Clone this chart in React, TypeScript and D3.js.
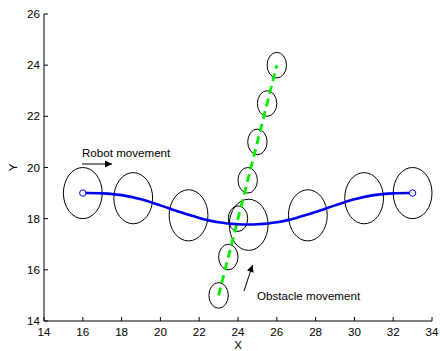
import React from "react";
import * as d3 from "d3";

const xTicks = [14, 16, 18, 20, 22, 24, 26, 28, 30, 32, 34];
const yTicks = [14, 16, 18, 20, 22, 24, 26];

const pathX = [16, 17, 18, 19, 20, 21, 22, 23, 24, 24.5, 25, 26, 27, 28, 29, 30, 31, 32, 33];
const pathY = [19, 18.99, 18.92, 18.76, 18.52, 18.26, 18.03, 17.86, 17.78, 17.77, 17.78, 17.86, 18.03, 18.26, 18.52, 18.76, 18.92, 18.99, 19];

const robotEllX = [16, 18.6, 21.45, 24.55, 27.6, 30.5, 33];
const robotEllY = [19, 18.8, 18.13, 17.76, 18.13, 18.8, 19];
const robotRadius = 1.0;

const obsX = [23, 23.5, 24, 24.5, 25, 25.5, 26];
const obsY = [15, 16.5, 18, 19.5, 21, 22.5, 24];
const obsRadius = 0.5;

const W = 440;
const H = 351;

export default function App() {
  const x = d3.scaleLinear().domain([14, 34]).range([44, 432]);
  const y = d3.scaleLinear().domain([14, 26]).range([321, 14]);
  const font = "'Liberation Sans', Arial, Helvetica, sans-serif";
  const fs = 11.6;

  const line = d3
    .line<number>()
    .x((_, i) => x(pathX[i]))
    .y((d) => y(d))
    .curve(d3.curveCatmullRom);
  const pathD = line(pathY) || "";

  const obsLine = d3
    .line<number>()
    .x((_, i) => x(obsX[i]))
    .y((d) => y(d));
  const obsD = obsLine(obsY) || "";

  const rxR = x(robotRadius) - x(0);
  const ryR = y(0) - y(robotRadius);
  const rxO = x(obsRadius) - x(0);
  const ryO = y(0) - y(obsRadius);

  const x0 = x(14);
  const y0 = y(14);

  return (
    <svg
      width={W}
      height={H}
      style={{ position: "absolute", left: 0, top: 0, background: "#fff" }}
      fontFamily={font}
    >
      <defs>
        <marker id="ah" viewBox="0 0 10 10" refX="10" refY="5" markerWidth="10" markerHeight="7" markerUnits="userSpaceOnUse" orient="auto">
          <path d="M0,0 L10,5 L0,10 z" fill="#000" />
        </marker>
      </defs>
      {/* axes */}
      <line x1={x0} y1={y0} x2={x(34)} y2={y0} stroke="#000" strokeWidth={1} />
      <line x1={x0} y1={y0} x2={x0} y2={y(26)} stroke="#000" strokeWidth={1} />
      {xTicks.map((t) => (
        <g key={"x" + t}>
          <line x1={x(t)} x2={x(t)} y1={y0} y2={y0 - 4} stroke="#000" />
          <text x={x(t)} y={y0 + 15} fontSize={fs} textAnchor="middle" fill="#000">
            {t}
          </text>
        </g>
      ))}
      {yTicks.map((t) => (
        <g key={"y" + t}>
          <line x1={x0} x2={x0 + 4} y1={y(t)} y2={y(t)} stroke="#000" />
          <text x={x0 - 4} y={y(t) + 4} fontSize={fs} textAnchor="end" fill="#000">
            {t}
          </text>
        </g>
      ))}
      <text x={x(24)} y={349} fontSize={fs} textAnchor="middle" fill="#000">X</text>
      <text transform={`translate(17,${y(20)}) rotate(-90)`} fontSize={fs} textAnchor="middle" fill="#000">Y</text>

      {/* robot ellipses */}
      {robotEllX.map((cx, i) => (
        <ellipse key={"r" + i} cx={x(cx)} cy={y(robotEllY[i])} rx={rxR} ry={ryR} fill="none" stroke="#000" strokeWidth={1} />
      ))}
      {/* obstacle ellipses */}
      {obsX.map((cx, i) => (
        <ellipse key={"o" + i} cx={x(cx)} cy={y(obsY[i])} rx={rxO} ry={ryO} fill="none" stroke="#000" strokeWidth={1} />
      ))}

      {/* obstacle path */}
      <path d={obsD} fill="none" stroke="#00ee00" strokeWidth={2.8} strokeDasharray="8,5" />

      {/* robot path */}
      <path d={pathD} fill="none" stroke="#0000ee" strokeWidth={2.6} />
      <circle cx={x(pathX[0])} cy={y(pathY[0])} r={3.2} fill="#fff" stroke="#0000ee" strokeWidth={1} />
      <circle cx={x(pathX[pathX.length - 1])} cy={y(pathY[pathY.length - 1])} r={3.2} fill="#fff" stroke="#0000ee" strokeWidth={1} />

      {/* annotations */}
      <text x={82} y={157} fontSize={fs} fill="#000">Robot movement</text>
      <line x1={82} y1={164} x2={112} y2={164} stroke="#000" strokeWidth={1} markerEnd="url(#ah)" />
      <text x={257} y={300} fontSize={fs} fill="#000">Obstacle movement</text>
      <line x1={244} y1={291} x2={252.5} y2={265} stroke="#000" strokeWidth={1} markerEnd="url(#ah)" />
    </svg>
  );
}
